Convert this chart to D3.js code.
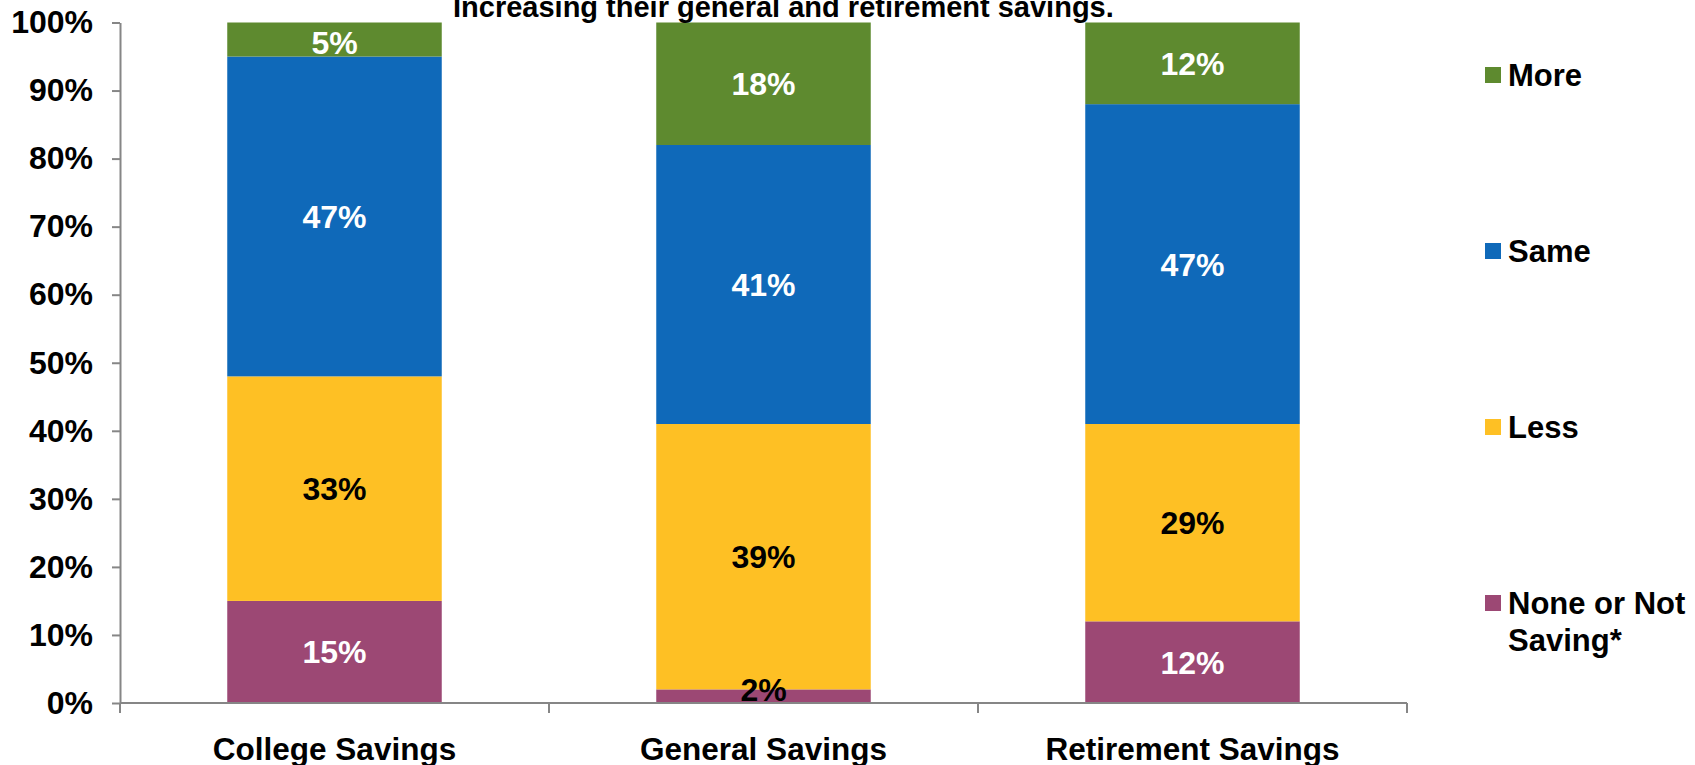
<!DOCTYPE html>
<html>
<head>
<meta charset="utf-8">
<script src="https://cdn.jsdelivr.net/npm/d3@7"></script>
<style>
  html, body { margin: 0; padding: 0; background: #fff; }
  svg { display: block; }
  text { font-family: "Liberation Sans", Arial, sans-serif; font-weight: bold; }
</style>
</head>
<body>
<svg id="chart" width="1695" height="765"></svg>
<script>
// Stacked shares (%) per savings type
const categories = ["College Savings", "General Savings", "Retirement Savings"];
const seriesNames = ["None or Not Saving*", "Less", "Same", "More"];
const noneValues = [15, 2, 12];
const lessValues = [33, 39, 29];
const sameValues = [47, 41, 47];
const moreValues = [5, 18, 12];
const yTickValues = [0, 10, 20, 30, 40, 50, 60, 70, 80, 90, 100];
const titleText = "Increasing their general and retirement savings.";

const colors = {
  "None or Not Saving*": "#9C4874",
  "Less": "#FEC024",
  "Same": "#0F69B9",
  "More": "#5E8A2F"
};
const labelInk = { "None or Not Saving*": "#fff", "Less": "#000", "Same": "#fff", "More": "#fff" };

const rows = categories.map((c, i) => ({
  category: c,
  "None or Not Saving*": noneValues[i],
  "Less": lessValues[i],
  "Same": sameValues[i],
  "More": moreValues[i]
}));

const svg = d3.select("#chart");
const plotLeft = 120, plotRight = 1407, plotTop = 22.5, plotBottom = 703;

const x = d3.scaleBand().domain(categories).range([plotLeft, plotRight])
  .paddingInner(0.5).paddingOuter(0.25);
const y = d3.scaleLinear().domain([0, 100]).range([plotBottom, plotTop]);

const stacked = d3.stack().keys(seriesNames)(rows);
const segments = stacked.flatMap(s => s.map(p => ({ key: s.key, p })));

// Bars
svg.append("g").selectAll("rect").data(segments).join("rect")
  .attr("fill", d => colors[d.key])
  .attr("x", d => x(d.p.data.category))
  .attr("width", x.bandwidth())
  .attr("y", d => y(d.p[1]))
  .attr("height", d => y(d.p[0]) - y(d.p[1]));

// Axes
const axisColor = "#868686";
const yAxis = svg.append("g").attr("transform", `translate(${plotLeft},0)`)
  .call(d3.axisLeft(y).tickValues(yTickValues).tickFormat(d => d + "%").tickSize(8).tickSizeOuter(0).tickPadding(19));
yAxis.select(".domain").attr("stroke", axisColor).attr("stroke-width", 2);
yAxis.selectAll(".tick line").attr("stroke", axisColor).attr("stroke-width", 2);
yAxis.selectAll(".tick text").attr("font-size", 32).attr("fill", "#000")
  .attr("font-family", "'Liberation Sans', Arial, sans-serif").attr("font-weight", "bold");

const xAxisG = svg.append("g").attr("transform", `translate(0,${plotBottom})`);
xAxisG.append("line").attr("x1", plotLeft).attr("x2", plotRight)
  .attr("stroke", axisColor).attr("stroke-width", 2);
const bounds = categories.map(c => x(c) - x.step() * x.paddingInner() / 2);
bounds[0] = plotLeft;
bounds.push(plotRight);
xAxisG.selectAll("line.tk").data(bounds).join("line").attr("class", "tk")
  .attr("x1", d => d).attr("x2", d => d).attr("y1", 0).attr("y2", 10)
  .attr("stroke", axisColor).attr("stroke-width", 2);
xAxisG.selectAll("text").data(categories).join("text")
  .attr("x", d => x(d) + x.bandwidth() / 2).attr("y", 57)
  .attr("text-anchor", "middle").attr("font-size", 31.5).attr("fill", "#000")
  .text(d => d);

// Segment value labels, on top of all bars and kept inside the plot area
const labelY = d => Math.max(plotTop + 20, Math.min(plotBottom - 14, (y(d.p[0]) + y(d.p[1])) / 2));
svg.append("g").selectAll("text").data(segments).join("text")
  .attr("x", d => x(d.p.data.category) + x.bandwidth() / 2)
  .attr("y", labelY)
  .attr("dy", "0.36em")
  .attr("text-anchor", "middle").attr("font-size", 32)
  .attr("fill", d => (d.p[1] - d.p[0]) < 4 ? "#000" : labelInk[d.key])
  .text(d => (d.p[1] - d.p[0]) + "%");

// Heading line (partly above the frame)
svg.append("text")
  .attr("x", 453).attr("y", 17)
  .attr("font-size", 29).attr("fill", "#000").text(titleText);

// Legend
const legendY = { "More": 75, "Same": 251, "Less": 427, "None or Not Saving*": 603 };
const legendLines = { "More": ["More"], "Same": ["Same"], "Less": ["Less"], "None or Not Saving*": ["None or Not", "Saving*"] };
const lg = svg.append("g").selectAll("g").data(seriesNames.slice().reverse()).join("g")
  .attr("transform", d => `translate(1485,${legendY[d]})`);
lg.append("rect").attr("x", 0).attr("y", -8).attr("width", 16).attr("height", 16)
  .attr("fill", d => colors[d]);
lg.each(function (d) {
  const g = d3.select(this);
  legendLines[d].forEach((line, i) => {
    g.append("text")
      .attr("x", 23).attr("y", i * 37)
      .attr("dy", "0.36em").attr("font-size", 31).attr("fill", "#000").text(line);
  });
});
</script>
</body>
</html>
